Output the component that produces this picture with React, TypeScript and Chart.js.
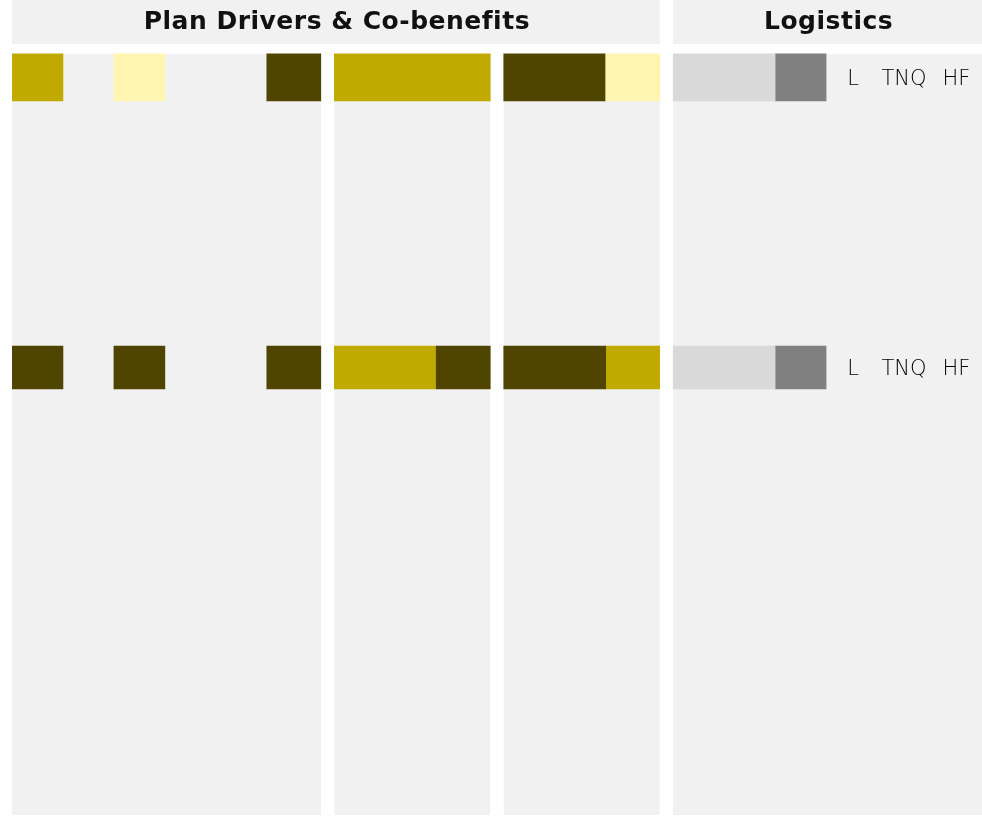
import React, { useEffect, useRef } from "react";
import { Chart, registerables } from "chart.js";

Chart.register(...registerables);

// ---------- data ----------
const rowNames = ["Row 1", "Row 2"];
const headerTitles = ["Plan Drivers & Co-benefits", "Logistics"];
// Plan drivers: 0 = none, 1 = low, 2 = medium, 3 = high
const planGroupSizes = [6, 3, 3];
const planLevelsRow1 = [2, 0, 1, 0, 0, 3, 2, 2, 2, 3, 3, 1];
const planLevelsRow2 = [3, 0, 3, 0, 0, 3, 2, 2, 3, 3, 3, 2];
// Logistics: 1 = light, 2 = dark
const logisticsLevelsRow1 = [1, 1, 2];
const logisticsLevelsRow2 = [1, 1, 2];
const logisticsTags = ["L", "TNQ", "HF"];

// ---------- styles / layout ----------
const planColors: Record<number, string> = { 1: "#FFF5B1", 2: "#C0AA00", 3: "#4F4500" };
const logisticsColors: Record<number, string> = { 1: "#D9D9D9", 2: "#808080" };
const PANEL_BG = "#F1F1F1";
const COL_EXTRA = 0.06;
const PANEL_GAP = 0.265;
const ROW_THICKNESS = [47, 43];
const Y_MIN = -0.267;
const Y_MAX = 2.543;
const HEADER_BAND = [Y_MIN, -0.1155];
const BODY_BAND = [-0.081, Y_MAX];

type Panel = { start: number; end: number; cols: number };

function buildPanels(): Panel[] {
  const sizes = [...planGroupSizes, logisticsLevelsRow1.length + logisticsTags.length];
  const panels: Panel[] = [];
  let x = 0;
  sizes.forEach((n, i) => {
    if (i > 0) x += PANEL_GAP;
    panels.push({ start: x, end: x + n + COL_EXTRA, cols: n });
    x += n + COL_EXTRA;
  });
  return panels;
}

function colRange(p: Panel, i: number): [number, number] {
  const a = p.start + i;
  const b = i === p.cols - 1 ? p.end : p.start + i + 1;
  return [a, b];
}

export default function App() {
  const ref = useRef<HTMLCanvasElement | null>(null);

  useEffect(() => {
    if (!ref.current) return;
    const panels = buildPanels();
    const xMax = panels[panels.length - 1].end;

    const planRows = [planLevelsRow1, planLevelsRow2];
    const logRows = [logisticsLevelsRow1, logisticsLevelsRow2];

    const groups: Record<string, { color: string; row: number; data: any[] }> = {};
    const addRun = (row: number, color: string, a: number, b: number) => {
      const key = row + "|" + color;
      if (!groups[key]) groups[key] = { color, row, data: [] };
      groups[key].data.push({ x: [a, b], y: row });
    };
    const emitPanel = (row: number, p: Panel, levels: number[], colors: Record<number, string>) => {
      let i = 0;
      while (i < levels.length) {
        const v = levels[i];
        let j = i;
        while (j + 1 < levels.length && levels[j + 1] === v) j++;
        if (v > 0) addRun(row, colors[v], colRange(p, i)[0], colRange(p, j)[1]);
        i = j + 1;
      }
    };
    planRows.forEach((levels, r) => {
      let offset = 0;
      planGroupSizes.forEach((n, g) => {
        emitPanel(r, panels[g], levels.slice(offset, offset + n), planColors);
        offset += n;
      });
    });
    logRows.forEach((levels, r) => emitPanel(r, panels[3], levels, logisticsColors));

    const datasets = Object.values(groups).map((g) => ({
      label: rowNames[g.row],
      data: g.data,
      backgroundColor: g.color,
      borderWidth: 0,
      barThickness: ROW_THICKNESS[g.row],
      grouped: false,
    }));

    const bgPlugin = {
      id: "panels",
      beforeDatasetsDraw(chart: any) {
        const { ctx, scales } = chart;
        const xs = scales.x, ys = scales.y;
        const px = (v: number) => xs.getPixelForValue(v);
        const py = (v: number) => ys.getPixelForValue(v);
        ctx.save();
        ctx.fillStyle = PANEL_BG;
        const hTop = py(HEADER_BAND[0]), hBot = py(HEADER_BAND[1]);
        const bTop = py(BODY_BAND[0]), bBot = py(BODY_BAND[1]);
        const headerBoxes = [
          [panels[0].start, panels[2].end],
          [panels[3].start, panels[3].end],
        ];
        headerBoxes.forEach(([a, b]) => ctx.fillRect(px(a), hTop, px(b) - px(a), hBot - hTop));
        panels.forEach((p) => ctx.fillRect(px(p.start), bTop, px(p.end) - px(p.start), bBot - bTop));
        ctx.fillStyle = "#111111";
        ctx.font = "700 25px 'DejaVu Sans'";
        (ctx as any).letterSpacing = "0.5px";
        ctx.textAlign = "center";
        ctx.textBaseline = "alphabetic";
        headerBoxes.forEach(([a, b], i) => {
          ctx.fillText(headerTitles[i], (px(a) + px(b)) / 2 + 1, (hTop + hBot) / 2 + 7.5);
        });
        ctx.restore();
      },
      afterDatasetsDraw(chart: any) {
        const { ctx, scales } = chart;
        const xs = scales.x, ys = scales.y;
        const p = panels[3];
        ctx.save();
        ctx.fillStyle = "#000000";
        ctx.font = "200 21px 'DejaVu Sans'";
        ctx.textAlign = "center";
        ctx.textBaseline = "alphabetic";
        rowNames.forEach((_, r) => {
          logisticsTags.forEach((t, k) => {
            const [a, b] = colRange(p, logisticsLevelsRow1.length + k);
            ctx.fillText(t, xs.getPixelForValue((a + b) / 2) + 1.5, ys.getPixelForValue(r) + 7.7);
          });
        });
        ctx.restore();
      },
    };

    const chart = new Chart(ref.current, {
      type: "bar",
      data: { datasets },
      options: {
        animation: false,
        responsive: false,
        indexAxis: "y",
        events: [],
        layout: { padding: { left: 12, right: 0, top: 0, bottom: 2 } },
        plugins: { legend: { display: false }, tooltip: { enabled: false }, title: { display: false } },
        scales: {
          x: { type: "linear", min: 0, max: xMax, display: false },
          y: { type: "linear", min: Y_MIN, max: Y_MAX, reverse: true, offset: false, display: false },
        },
      },
      plugins: [bgPlugin],
    } as any);
    return () => chart.destroy();
  }, []);

  return (
    <div style={{ position: "absolute", left: 0, top: 0, width: 982, height: 817, background: "#ffffff" }}>
      <canvas ref={ref} width={982} height={817} style={{ display: "block" }} />
    </div>
  );
}
